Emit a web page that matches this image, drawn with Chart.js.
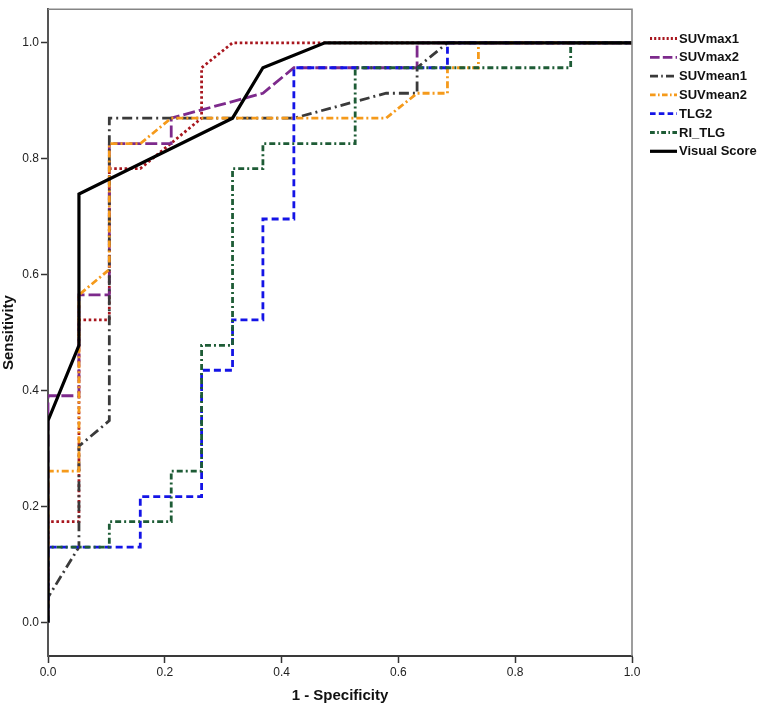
<!DOCTYPE html>
<html>
<head>
<meta charset="utf-8">
<script src="https://cdn.jsdelivr.net/npm/chart.js@4/dist/chart.umd.min.js"></script>
<style>
html,body{margin:0;padding:0;background:#fff;}
#c{display:block;}
</style>
</head>
<body>
<canvas id="c" width="761" height="706"></canvas>
<script>
// ---- data ----
const seriesNames = ["SUVmax1", "SUVmax2", "SUVmean1", "SUVmean2", "TLG2", "RI_TLG", "Visual Score"];

const suvmax1X = [0, 0, 0.053, 0.053, 0.105, 0.105, 0.158, 0.263, 0.263, 0.316, 1];
const suvmax1Y = [0, 0.174, 0.174, 0.522, 0.522, 0.783, 0.783, 0.870, 0.957, 1, 1];

const suvmax2X = [0, 0, 0.053, 0.053, 0.105, 0.105, 0.211, 0.211, 0.368, 0.421, 0.632, 0.632, 1];
const suvmax2Y = [0, 0.391, 0.391, 0.565, 0.565, 0.826, 0.826, 0.870, 0.913, 0.957, 0.957, 1, 1];

const suvmean1X = [0, 0, 0.053, 0.053, 0.105, 0.105, 0.421, 0.579, 0.632, 0.632, 0.684, 1];
const suvmean1Y = [0, 0.043, 0.130, 0.304, 0.348, 0.870, 0.870, 0.913, 0.913, 0.957, 1, 1];

const suvmean2X = [0, 0, 0.053, 0.053, 0.105, 0.105, 0.158, 0.211, 0.579, 0.632, 0.684, 0.684, 0.737, 0.737, 1];
const suvmean2Y = [0, 0.261, 0.261, 0.565, 0.609, 0.826, 0.826, 0.870, 0.870, 0.913, 0.913, 0.957, 0.957, 1, 1];

const tlg2X = [0, 0, 0.158, 0.158, 0.263, 0.263, 0.316, 0.316, 0.368, 0.368, 0.421, 0.421, 0.684, 0.684, 1];
const tlg2Y = [0, 0.130, 0.130, 0.217, 0.217, 0.435, 0.435, 0.522, 0.522, 0.696, 0.696, 0.957, 0.957, 1, 1];

const riTlgX = [0, 0, 0.105, 0.105, 0.211, 0.211, 0.263, 0.263, 0.316, 0.316, 0.368, 0.368, 0.526, 0.526, 0.895, 0.895, 1];
const riTlgY = [0, 0.130, 0.130, 0.174, 0.174, 0.261, 0.261, 0.478, 0.478, 0.783, 0.783, 0.826, 0.826, 0.957, 0.957, 1, 1];

const visualX = [0, 0, 0.053, 0.053, 0.316, 0.368, 0.474, 1];
const visualY = [0, 0.348, 0.478, 0.739, 0.870, 0.957, 1, 1];

const xTicks = [0, 0.2, 0.4, 0.6, 0.8, 1.0];
const yTicks = [0, 0.2, 0.4, 0.6, 0.8, 1.0];

// ---- styles ----
const FONT = "'Liberation Sans', Arial, sans-serif";
const styles = [
  {color: "#A8161E", dash: [2.6, 2.6], width: 2.8},
  {color: "#7D2A8C", dash: [12, 4], width: 2.8},
  {color: "#3A3A3A", dash: [10, 4, 2, 4], width: 2.8},
  {color: "#F59A1B", dash: [7, 3, 2, 3], width: 2.8},
  {color: "#1414E6", dash: [7, 4], width: 2.8},
  {color: "#1E5C36", dash: [6, 3, 2, 3], width: 2.8},
  {color: "#000000", dash: [], width: 3.2}
];
const xs = [suvmax1X, suvmax2X, suvmean1X, suvmean2X, tlg2X, riTlgX, visualX];
const ys = [suvmax1Y, suvmax2Y, suvmean1Y, suvmean2Y, tlg2Y, riTlgY, visualY];

const datasets = seriesNames.map((name, i) => ({
  label: name,
  data: xs[i].map((x, k) => ({x: x, y: ys[i][k]})),
  borderColor: styles[i].color,
  borderDash: styles[i].dash,
  borderWidth: styles[i].width,
  pointRadius: 0,
  fill: false,
  tension: 0,
  showLine: true,
  order: seriesNames.length - i
}));

const framePlugin = {
  id: 'frame',
  afterDatasetsDraw(chart) {
    const {ctx, chartArea: a} = chart;
    ctx.save();
    ctx.strokeStyle = "#858585";
    ctx.lineWidth = 1.6;
    ctx.setLineDash([]);
    ctx.beginPath();
    ctx.moveTo(a.left, a.top);
    ctx.lineTo(a.right, a.top);
    ctx.lineTo(a.right, a.bottom);
    ctx.stroke();
    ctx.restore();
  }
};

const legendPlugin = {
  id: 'customLegend',
  afterDraw(chart) {
    const ctx = chart.ctx;
    const x0 = 650, x1 = 677, tx = 679, y0 = 38.5, dy = 18.8;
    ctx.save();
    chart.data.datasets.forEach((ds, i) => {
      const y = y0 + i * dy;
      ctx.strokeStyle = ds.borderColor;
      ctx.lineWidth = ds.borderWidth;
      ctx.setLineDash(ds.borderDash.length ? ds.borderDash.map(v => v * 0.8) : []);
      ctx.beginPath();
      ctx.moveTo(x0, y);
      ctx.lineTo(x1, y);
      ctx.stroke();
      ctx.setLineDash([]);
      ctx.fillStyle = "#111";
      ctx.font = "bold 13px " + FONT;
      ctx.textBaseline = "middle";
      ctx.textAlign = "left";
      ctx.fillText(ds.label, tx, y + 0.5);
    });
    ctx.restore();
  }
};

new Chart(document.getElementById('c'), {
  type: 'line',
  data: {datasets: datasets},
  options: {
    responsive: false,
    animation: false,
    layout: {padding: {left: 0, right: 129, top: 2, bottom: 0}},
    plugins: {legend: {display: false}, tooltip: {enabled: false}},
    scales: {
      x: {
        type: 'linear',
        min: 0, max: 1,
        afterBuildTicks: s => { s.ticks = xTicks.map(v => ({value: v})); },
        afterFit: s => { s.height = 50; },
        grid: {drawOnChartArea: false, drawTicks: true, tickLength: 7, tickColor: "#333", tickWidth: 1.5},
        border: {display: true, color: "#3a3a3a", width: 2},
        ticks: {
          color: "#222", padding: 2, maxRotation: 0,
          font: {family: FONT, size: 12},
          callback: v => v.toFixed(1)
        },
        title: {display: true, text: "1 - Specificity", color: "#111",
          font: {family: FONT, size: 15, weight: 'bold'}, padding: {top: 0, bottom: 1}}
      },
      y: {
        type: 'linear',
        min: -0.058, max: 1.058,
        afterBuildTicks: s => { s.ticks = yTicks.map(v => ({value: v})); },
        afterFit: s => { s.width = 48; },
        grid: {drawOnChartArea: false, drawTicks: true, tickLength: 7, tickColor: "#333", tickWidth: 1.5},
        border: {display: true, color: "#555", width: 2},
        ticks: {
          color: "#222", padding: 2,
          font: {family: FONT, size: 12},
          callback: v => v.toFixed(1)
        },
        title: {display: true, text: "Sensitivity", color: "#111",
          font: {family: FONT, size: 15, weight: 'bold'}, padding: {top: 0, bottom: 0}}
      }
    }
  },
  plugins: [framePlugin, legendPlugin]
});
</script>
</body>
</html>
